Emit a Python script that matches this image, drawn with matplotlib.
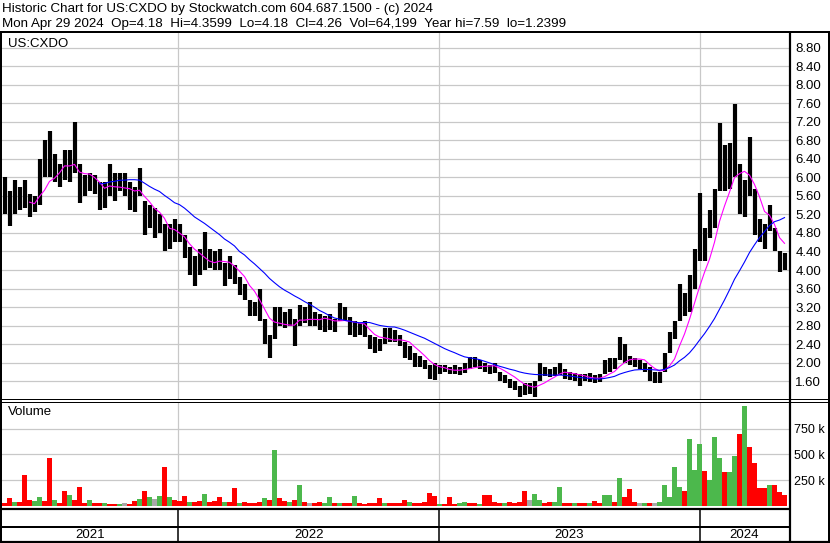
import numpy as np
import pandas as pd
import matplotlib
matplotlib.use("Agg")
import matplotlib.pyplot as plt
from matplotlib.lines import Line2D
from matplotlib.transforms import blended_transform_factory

plt.rcParams["font.family"] = ["Liberation Sans", "DejaVu Sans"]

# ── weekly values (Apr 29 2021 -> Apr 29 2024) ─────────────────────────────
START = pd.Timestamp("2021-04-29")
HIGH = [6.0, 5.7, 5.95, 5.8, 5.95, 5.65, 5.6, 6.4, 6.8, 7.0,
        6.5, 6.3, 6.6, 6.6, 7.2, 6.3, 6.05, 6.1, 6.05, 5.9,
        5.9, 6.3, 6.1, 6.1, 6.1, 5.9, 5.8, 6.2, 5.5, 5.4,
        5.35, 5.2, 5.0, 5.0, 5.1, 5.0, 4.75, 4.5, 4.3, 4.45,
        4.82, 4.45, 4.4, 4.45, 4.15, 4.3, 4.1, 3.85, 3.7, 3.35,
        3.3, 3.6, 2.95, 2.6, 3.2, 3.2, 3.1, 3.15, 2.95, 3.25,
        3.2, 3.3, 3.1, 3.05, 3.0, 3.05, 2.95, 3.28, 3.2, 2.98,
        2.9, 2.85, 2.9, 2.6, 2.55, 2.5, 2.75, 2.75, 2.7, 2.6,
        2.45, 2.35, 2.2, 2.15, 2.05, 1.95, 2.0, 1.95, 1.95, 1.9,
        1.95, 1.9, 2.0, 2.12, 2.12, 2.05, 1.98, 1.95, 1.98, 1.8,
        1.72, 1.65, 1.6, 1.5, 1.55, 1.55, 1.6, 2.0, 1.9, 1.85,
        1.9, 2.0, 1.85, 1.8, 1.78, 1.75, 1.75, 1.78, 1.72, 1.75,
        2.05, 2.1, 2.1, 2.55, 2.4, 2.15, 2.1, 2.05, 2.0, 1.9,
        1.8, 1.8, 2.2, 2.65, 2.9, 3.7, 3.5, 3.9, 4.45, 5.66,
        4.9, 5.3, 5.75, 7.18, 6.7, 6.75, 7.59, 6.3, 5.95, 6.87,
        5.75, 5.1, 5.0, 5.4, 4.9, 4.4, 4.36]
LOW = [5.2, 4.95, 5.2, 5.3, 5.35, 5.15, 5.25, 5.4, 6.0, 6.0,
       5.9, 5.8, 5.95, 5.9, 6.1, 5.45, 5.6, 5.7, 5.65, 5.3,
       5.35, 5.6, 5.5, 5.7, 5.6, 5.3, 5.25, 5.6, 4.75, 4.9,
       4.7, 4.8, 4.4, 4.45, 4.6, 4.6, 4.25, 3.9, 3.65, 3.9,
       4.0, 4.05, 4.0, 4.0, 3.65, 3.8, 3.7, 3.45, 3.35, 3.0,
       3.0, 2.9, 2.4, 2.1, 2.5, 2.8, 2.75, 2.8, 2.35, 2.8,
       2.85, 2.8, 2.8, 2.7, 2.65, 2.7, 2.65, 2.9, 2.9, 2.6,
       2.55, 2.6, 2.55, 2.3, 2.2, 2.25, 2.4, 2.45, 2.45, 2.35,
       2.1, 2.05, 1.9, 1.9, 1.85, 1.65, 1.62, 1.75, 1.8, 1.75,
       1.75, 1.73, 1.78, 1.85, 1.9, 1.85, 1.8, 1.76, 1.78, 1.6,
       1.55, 1.45, 1.4, 1.25, 1.3, 1.32, 1.25, 1.6, 1.7, 1.68,
       1.7, 1.72, 1.65, 1.62, 1.6, 1.5, 1.6, 1.58, 1.55, 1.58,
       1.75, 1.8, 1.85, 2.05, 2.0, 1.95, 1.9, 1.85, 1.8, 1.6,
       1.55, 1.55, 1.8, 2.2, 2.5, 2.9, 3.0, 3.1, 3.6, 4.2,
       4.2, 4.7, 4.9, 5.7, 5.7, 5.75, 6.0, 5.2, 5.15, 5.6,
       4.75, 4.6, 4.45, 4.85, 4.4, 3.95, 4.0]
CLOSE = [5.6, 5.25, 5.5, 5.45, 5.7, 5.3, 5.4, 6.2, 6.3, 6.6,
         6.1, 6.0, 6.3, 6.2, 6.5, 5.6, 5.9, 5.95, 5.85, 5.6,
         5.7, 5.9, 5.8, 5.9, 5.75, 5.5, 5.4, 6.0, 5.0, 5.2,
         4.9, 5.0, 4.6, 4.7, 4.85, 4.75, 4.4, 4.1, 3.9, 4.2,
         4.3, 4.25, 4.2, 4.3, 3.85, 4.1, 3.8, 3.6, 3.5, 3.15,
         3.1, 3.0, 2.6, 2.4, 3.0, 3.0, 2.95, 2.9, 2.6, 3.05,
         3.0, 3.1, 2.95, 2.85, 2.8, 2.9, 2.8, 3.1, 3.0, 2.75,
         2.7, 2.75, 2.7, 2.4, 2.35, 2.4, 2.6, 2.6, 2.55, 2.45,
         2.25, 2.2, 2.0, 2.05, 1.95, 1.8, 1.75, 1.9, 1.88, 1.82,
         1.85, 1.8, 1.85, 2.0, 2.0, 1.95, 1.9, 1.85, 1.88, 1.7,
         1.65, 1.55, 1.5, 1.35, 1.45, 1.45, 1.5, 1.8, 1.8, 1.75,
         1.8, 1.85, 1.75, 1.7, 1.7, 1.6, 1.68, 1.65, 1.65, 1.68,
         1.9, 1.95, 2.0, 2.3, 2.15, 2.05, 2.0, 1.95, 1.9, 1.7,
         1.65, 1.7, 2.1, 2.5, 2.8, 3.4, 3.2, 3.6, 4.2, 4.6,
         4.7, 5.1, 5.4, 6.3, 6.2, 6.4, 6.6, 5.6, 5.7, 5.8,
         5.0, 4.8, 4.7, 5.1, 4.5, 4.1, 4.26]
VOLUME_K = [30, 75, 35, 40, 300, 60, 50, 90, 45, 465,
            55, 30, 145, 105, 60, 180, 25, 55, 30, 25,
            25, 20, 20, 20, 25, 20, 50, 70, 145, 90,
            70, 100, 375, 85, 60, 45, 95, 40, 35, 45,
            115, 40, 50, 90, 40, 40, 170, 30, 35, 30,
            30, 40, 75, 60, 540, 75, 50, 40, 60, 205,
            40, 30, 30, 35, 30, 85, 30, 30, 25, 25,
            95, 25, 20, 25, 30, 75, 25, 25, 30, 25,
            55, 40, 25, 30, 40, 125, 100, 20, 20, 85,
            20, 25, 40, 25, 25, 20, 110, 110, 40, 30,
            30, 35, 30, 40, 145, 60, 120, 60, 30, 35,
            40, 180, 30, 25, 25, 30, 25, 25, 45, 25,
            110, 105, 40, 270, 90, 165, 40, 25, 30, 30,
            30, 40, 200, 90, 380, 180, 150, 650, 350, 605,
            340, 250, 670, 470, 330, 330, 485, 695, 970, 575,
            420, 170, 175, 200, 200, 140, 110]
VOL_DIR = "rrgrrrggrr" "grrgrrrgrr" "grrgxrrgrg" "xgrgrrrgrr" \
          "grrrgrrgrr" "rrgrgrrgrg" "rxrrggrgrr" "grrrrrgrrr" \
          "rgrrrrrgrr" "rggrrgrrrr" "grrrrxggrr" "ggrrgrrgrr" \
          "ggrgrrrxgr" "xgggggrggg" "rgggrggrgr" "rrrgrrr"
YEARS = ["2021", "2022", "2023", "2024"]
PRICE_TICKS = np.arange(1.60, 8.81, 0.40)
VOL_TICKS_K = [250, 500, 750]

GRID = "#C8C8C8"
MA_FAST = "#FF00FF"
MA_SLOW = "#0000FF"
VCOL = {"r": "#FF0000", "g": "#4CB84C", "x": "#A8A8A8"}

W, H = 830, 543


def frac(x0, y0, x1, y1):
    return [x0 / W, 1 - y1 / H, (x1 - x0) / W, (y1 - y0) / H]


x = np.arange(len(CLOSE)) + 0.5
close = pd.Series(CLOSE)
ma_fast = close.rolling(6).mean()
ma_slow = close.rolling(20).mean()
year_pos = [(pd.Timestamp(f"{y}-01-01") - START).days / 7 for y in YEARS[1:]]
XMAX = 157.4

fig = plt.figure(figsize=(W / 100, H / 100), dpi=100)

# ── price panel ────────────────────────────────────────────────────────────
ax_p = fig.add_axes(frac(2, 33, 789, 399))
ax_p.set_xlim(0, XMAX)
ax_p.set_ylim(1.211, 9.124)
ax_p.vlines(x, LOW, HIGH, color="black", lw=3.0, zorder=3)
ax_p.plot(x, ma_fast, color=MA_FAST, lw=0.8, zorder=4)
ax_p.plot(x, ma_slow, color=MA_SLOW, lw=0.8, zorder=4)
ax_p.set_yticks(PRICE_TICKS)
ax_p.set_yticklabels([f"{v:.2f}" for v in PRICE_TICKS])
ax_p.set_xticks(year_pos)
ax_p.set_xticklabels([])
ax_p.grid(True, color=GRID, lw=0.9, zorder=0)
ax_p.text(0.008, 0.985, "US:CXDO", transform=ax_p.transAxes, ha="left",
          va="top", fontsize=9.5)
ax_p.tick_params(axis="y", pad=4.5, labelsize=9.5)

# ── volume panel ───────────────────────────────────────────────────────────
ax_v = fig.add_axes(frac(2, 402, 789, 506))
ax_v.set_xlim(0, XMAX)
ax_v.set_ylim(0, 1008)
ax_v.bar(x, VOLUME_K, width=0.85, color=[VCOL[c] for c in VOL_DIR],
         linewidth=0, zorder=3)
ax_v.set_yticks(VOL_TICKS_K)
ax_v.set_yticklabels([f"{v} k" for v in VOL_TICKS_K])
ax_v.set_xticks(year_pos)
ax_v.set_xticklabels([])
ax_v.grid(True, color=GRID, lw=0.9, zorder=0)
ax_v.text(0.008, 0.96, "Volume", transform=ax_v.transAxes, ha="left",
          va="top", fontsize=9.5)
ax_v.tick_params(axis="y", pad=3.5, labelsize=9)

for ax in (ax_p, ax_v):
    for s in ax.spines.values():
        s.set_visible(False)
    ax.tick_params(axis="both", length=0)
    ax.tick_params(axis="y", labelleft=False, labelright=True)
    ax.set_axisbelow(True)

# ── frame, headers and year strip ──────────────────────────────────────────
ov = fig.add_axes([0, 0, 1, 1], zorder=10)
ov.set_xlim(0, W)
ov.set_ylim(H, 0)
ov.axis("off")
ov.patch.set_alpha(0)

seg = [((0, 32), (W, 32), 2.0), ((1, 32), (1, H), 2.0),
       ((W - 1, 32), (W - 1, H), 2.0), ((790, 32), (790, H), 2.2),
       ((0, 399), (W, 399), 1.0), ((0, 402), (W, 402), 1.0),
       ((0, 508.5), (790, 508.5), 2.2), ((0, 526.5), (790, 526.5), 2.0),
       ((0, 542), (W, 542), 2.2)]
for (x0, y0), (x1, y1), lw in seg:
    ov.add_line(Line2D([x0, x1], [y0, y1], color="black", lw=lw * 0.72,
                       solid_capstyle="butt"))

tr = blended_transform_factory(ax_p.transData, ov.transData)
for p in year_pos:
    ov.add_line(Line2D([p, p], [508.5, H], color="black", lw=1.1,
                       transform=tr))
edges = [0] + year_pos + [XMAX]
for i, y in enumerate(YEARS):
    ov.text((edges[i] + edges[i + 1]) / 2, 535, y, transform=tr,
            ha="center", va="center", fontsize=9.5)

ov.text(2, 9, "Historic Chart for US:CXDO by Stockwatch.com 604.687.1500 - (c) 2024",
        ha="left", va="center", fontsize=9.6)
ov.text(2, 24, "Mon Apr 29 2024  Op=4.18  Hi=4.3599  Lo=4.18  Cl=4.26  "
        "Vol=64,199  Year hi=7.59  lo=1.2399", ha="left", va="center",
        fontsize=9.6)

fig.savefig("out.png", dpi=100)
